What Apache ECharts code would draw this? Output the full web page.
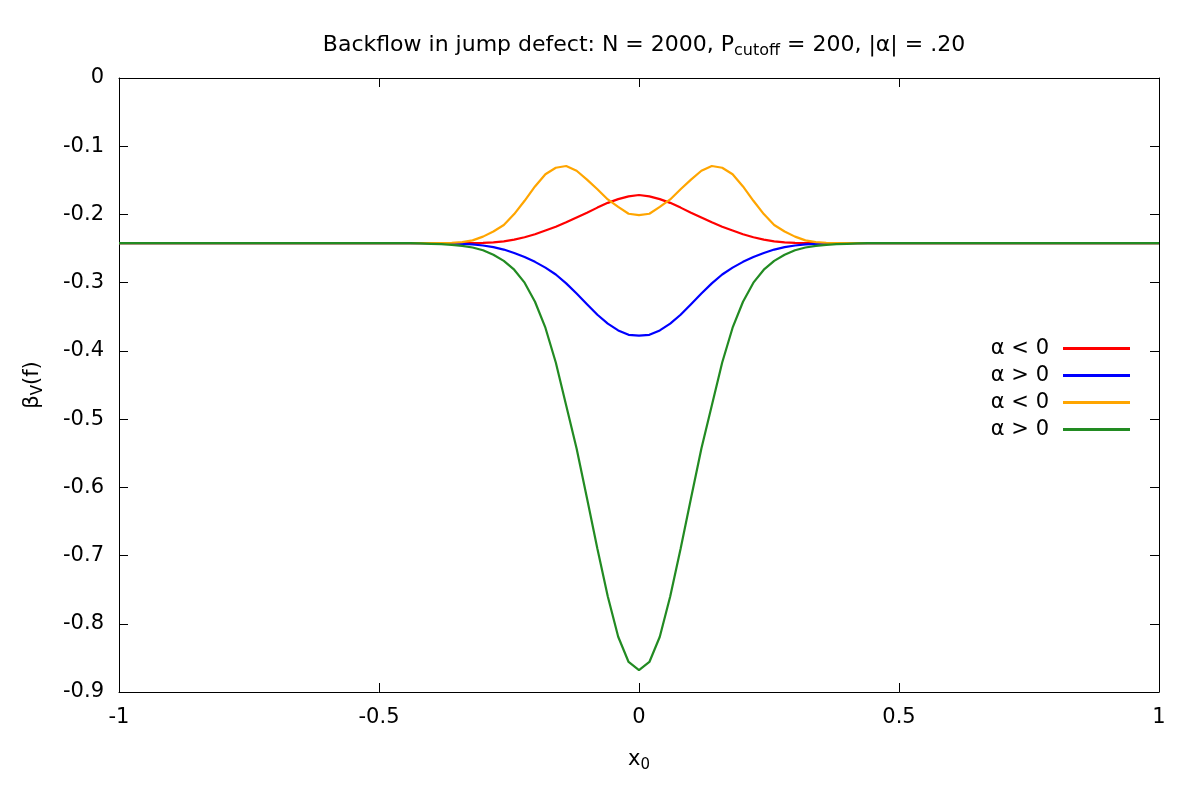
<!DOCTYPE html>
<html lang="en">
<head>
    <meta charset="UTF-8">
    <title>Backflow in jump defect</title>
    <script src="https://cdn.jsdelivr.net/npm/echarts@6/dist/echarts.min.js"></script>
    <style>
        body{ margin: 0; }
        .box{ width: 1200px; height: 800px; }
    </style>
</head>
<body>
    <div class="box"></div>
</body>
<script>
 // x0 positions (dense around the defect, flat outside)
 let xs = [-1, -0.44, -0.42, -0.4, -0.38, -0.36, -0.34, -0.32, -0.3, -0.28, -0.26, -0.24, -0.22, -0.2, -0.18, -0.16, -0.14, -0.12, -0.1, -0.08, -0.06, -0.04, -0.02,
           0, 0.02, 0.04, 0.06, 0.08, 0.1, 0.12, 0.14, 0.16, 0.18, 0.2, 0.22, 0.24, 0.26, 0.28, 0.3, 0.32, 0.34, 0.36, 0.38, 0.4, 0.42, 0.44, 1]
 // red: alpha < 0
 let redY = [-0.242, -0.242, -0.242, -0.242, -0.242, -0.242, -0.242, -0.242, -0.2417, -0.241, -0.2395, -0.237, -0.2335, -0.229, -0.2235, -0.218, -0.2115, -0.2045, -0.1975, -0.190, -0.183, -0.1775, -0.1735,
             -0.1715, -0.1735, -0.1775, -0.183, -0.190, -0.1975, -0.2045, -0.2115, -0.218, -0.2235, -0.229, -0.2335, -0.237, -0.2395, -0.241, -0.2417, -0.242, -0.242, -0.242, -0.242, -0.242, -0.242, -0.242, -0.242]
 // blue: alpha > 0
 let blueY = [-0.242, -0.242, -0.242, -0.242, -0.242, -0.2425, -0.243, -0.244, -0.2455, -0.248, -0.2515, -0.2565, -0.2625, -0.2695, -0.278, -0.288, -0.301, -0.316, -0.3315, -0.347, -0.360, -0.370, -0.3765,
              -0.3775, -0.3765, -0.370, -0.360, -0.347, -0.3315, -0.316, -0.301, -0.288, -0.278, -0.2695, -0.2625, -0.2565, -0.2515, -0.248, -0.2455, -0.244, -0.243, -0.2425, -0.242, -0.242, -0.242, -0.242, -0.242]
 // orange: alpha < 0
 let orangeY = [-0.242, -0.242, -0.242, -0.242, -0.242, -0.2415, -0.2405, -0.238, -0.2325, -0.225, -0.2155, -0.1995, -0.180, -0.159, -0.141, -0.1315, -0.129, -0.136, -0.149, -0.163, -0.178, -0.189, -0.199,
                -0.201, -0.199, -0.189, -0.178, -0.163, -0.149, -0.136, -0.129, -0.1315, -0.141, -0.159, -0.180, -0.1995, -0.2155, -0.225, -0.2325, -0.238, -0.2405, -0.2415, -0.242, -0.242, -0.242, -0.242, -0.242]
 // green: alpha > 0
 let greenY = [-0.242, -0.242, -0.2425, -0.243, -0.2435, -0.2445, -0.246, -0.2485, -0.2525, -0.259, -0.268, -0.281, -0.300, -0.328, -0.366, -0.417, -0.480, -0.543, -0.616, -0.690, -0.760, -0.819, -0.856,
               -0.868, -0.856, -0.819, -0.760, -0.690, -0.616, -0.543, -0.480, -0.417, -0.366, -0.328, -0.300, -0.281, -0.268, -0.259, -0.2525, -0.2485, -0.246, -0.2445, -0.2435, -0.243, -0.2425, -0.242, -0.242]

 let names = ['redNeg', 'bluePos', 'orangeNeg', 'greenPos']
 let labels = {redNeg: 'α < 0', bluePos: 'α > 0', orangeNeg: 'α < 0', greenPos: 'α > 0'}
 let colors = ['#ff0000', '#0000ff', '#ffa500', '#228b22']
 let ys = [redY, blueY, orangeY, greenY]

 let font = 'DejaVu Sans'
 let fs = 21
 let Echarts = echarts.init(document.querySelector('.box'))

 let frameAxis = {// mirror axis, ticks only
    axisLine: {show: true, onZero: false, lineStyle: {color: '#000', width: 1}},
    axisTick: {show: true, inside: true, length: 9, lineStyle: {color: '#000'}},
    axisLabel: {show: false},
    splitLine: {show: false}
 }
 let subRich = {
    a: {fontFamily: font, fontSize: fs, color: '#000'},
    s: {fontFamily: font, fontSize: 15, padding: [11, 0, 0, 0], color: '#000'}
 }
 let titleRich = {
    a: {fontFamily: font, fontSize: 22, color: '#000'},
    s: {fontFamily: font, fontSize: 16, padding: [11, 0, 0, 0], color: '#000'}
 }

 let option = {
    animation: false,
    backgroundColor: '#fff',
    textStyle: {fontFamily: font},
    title: {
        text: '{a|Backflow in jump defect: N = 2000, P}{s|cutoff}{a| = 200, |α| = .20}',
        left: 639,
        textAlign: 'center',
        top: 27,
        textStyle: {fontFamily: font, fontSize: 22, fontWeight: 'normal', color: '#000', rich: titleRich}
    },
    grid: {left: 119, right: 41, top: 78, bottom: 108},
    xAxis: [{
        type: 'value', min: -1, max: 1, interval: 0.5,
        name: '{a|x}{s|0}', nameLocation: 'middle', nameGap: 55,
        nameTextStyle: {fontFamily: font, fontSize: fs, color: '#000', rich: subRich},
        axisLine: {show: true, onZero: false, lineStyle: {color: '#000', width: 1}},
        axisTick: {show: true, inside: true, length: 9, lineStyle: {color: '#000'}},
        axisLabel: {color: '#000', fontSize: fs, fontFamily: font, margin: 15},
        splitLine: {show: false}
    }, Object.assign({type: 'value', min: -1, max: 1, interval: 0.5, position: 'top'}, frameAxis)],
    yAxis: [{
        type: 'value', min: -0.9, max: 0, interval: 0.1,
        name: '{a|β}{s|V}{a|(f)}', nameLocation: 'middle', nameGap: 73, nameRotate: 90,
        nameTextStyle: {fontFamily: font, fontSize: fs, color: '#000', rich: subRich},
        axisLine: {show: true, onZero: false, lineStyle: {color: '#000', width: 1}},
        axisTick: {show: true, inside: true, length: 9, lineStyle: {color: '#000'}},
        axisLabel: {color: '#000', fontSize: fs, fontFamily: font, margin: 15,
            formatter: v => (Math.abs(v) < 1e-9 ? '0' : v.toFixed(1))},
        splitLine: {show: false}
    }, Object.assign({type: 'value', min: -0.9, max: 0, interval: 0.1, position: 'right'}, frameAxis)],
    legend: {
        orient: 'vertical',
        right: 65,
        top: 333,
        align: 'right',
        icon: 'rect',
        itemWidth: 67,
        itemHeight: 3,
        itemGap: 6,
        data: names,
        formatter: n => labels[n],
        textStyle: {fontFamily: font, fontSize: fs, color: '#000', lineHeight: 20, padding: [0, 9, 0, 0]}
    },
    series: names.map((n, k) => ({
        name: n,
        type: 'line',
        xAxisIndex: 0,
        yAxisIndex: 0,
        showSymbol: false,
        symbol: 'none',
        smooth: false,
        color: colors[k],
        lineStyle: {color: colors[k], width: 2.2},
        data: xs.map((x, i) => [x, ys[k][i]])
    }))
 }
 Echarts.setOption(option)
</script>
</html>
